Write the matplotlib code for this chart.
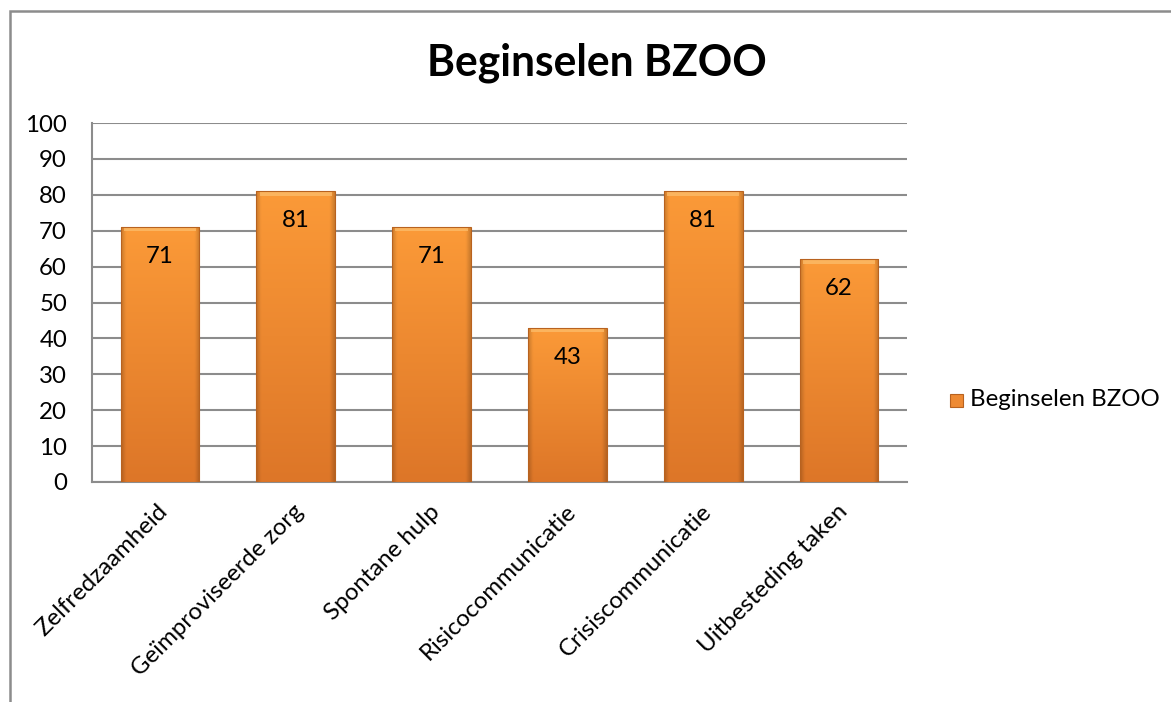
import numpy as np
import matplotlib
matplotlib.use("Agg")
import matplotlib.pyplot as plt
from matplotlib.patches import Rectangle

categories = ["Zelfredzaamheid", "Geïmproviseerde zorg", "Spontane hulp",
              "Risicocommunicatie", "Crisiscommunicatie", "Uitbesteding taken"]
values = [71, 81, 71, 43, 81, 62]
series_name = "Beginselen BZOO"
title = "Beginselen BZOO"
yticks = list(range(0, 101, 10))

plt.rcParams['font.family'] = ['Lato', 'DejaVu Sans']
FS = 17.3

W, H = 1171, 702
fig = plt.figure(figsize=(W / 100, H / 100), dpi=100)
fig.patch.set_facecolor('white')

# outer chart border
fig.add_artist(Rectangle((10 / W, -0.01), 1.2, (H - 11) / H + 0.01, transform=fig.transFigure,
                         fill=False, edgecolor='#8c8c8c', linewidth=1.8))

ax = fig.add_axes([92 / W, 1 - 482 / H, (907 - 92) / W, (482 - 123) / H])
x = np.arange(len(categories))
bars = ax.bar(x, values, width=0.58, color='none', edgecolor='none', zorder=3)

ax.set_xlim(-0.5, len(categories) - 0.5)
ax.set_ylim(0, 100)
ax.set_yticks(yticks)
ax.set_yticklabels([str(t) for t in yticks], fontsize=FS)
ax.tick_params(axis='y', length=0, pad=18)
ax.set_xticks(x)
ax.set_xticklabels([])
ax.tick_params(axis='x', length=0)
for s in ['top', 'right']:
    ax.spines[s].set_visible(False)
ax.spines['left'].set_color('#8c8c8c')
ax.spines['bottom'].set_color('#8c8c8c')
ax.spines['left'].set_linewidth(1.5)
ax.spines['bottom'].set_linewidth(1.5)
ax.yaxis.grid(True, color='#8c8c8c', linewidth=1.5, zorder=0)
ax.set_axisbelow(True)

# gradient image for bars
top_c = np.array([0xfb, 0x9a, 0x38]) / 255
bot_c = np.array([0xdd, 0x76, 0x28]) / 255
ny, nx = 200, 60
vy = np.linspace(0, 1, ny)[:, None]
base = top_c[None, None, :] * (1 - vy[..., None]) + bot_c[None, None, :] * vy[..., None]
base = np.repeat(base, nx, axis=1)
xx = np.linspace(0, 1, nx)[None, :]
edge = np.minimum(xx, 1 - xx)
shade = np.where(edge < 0.06, 0.82 + 0.18 * edge / 0.06, 1.0)
img = base * shade[..., None]

for b in bars:
    x0, y0 = b.get_x(), b.get_y()
    w, h = b.get_width(), b.get_height()
    im = ax.imshow(img, extent=[x0, x0 + w, y0, y0 + h], aspect='auto', zorder=3,
                   interpolation='bilinear')
    im.set_clip_path(b)
    ax.add_patch(Rectangle((x0 + w * 0.04, y0 + h - 1.2), w * 0.92, 1.0,
                           facecolor='#fcc070', edgecolor='none', zorder=4, alpha=0.7))
    ax.add_patch(Rectangle((x0, y0), w, h, fill=False, edgecolor='#b8621f',
                           linewidth=0.8, zorder=5))

for xi, v in zip(x, values):
    ax.text(xi, v - 5.3, str(v), ha='center', va='top', fontsize=FS, zorder=6)

# rotated category labels
for xi, c in zip(x, categories):
    ax.annotate(c, xy=(xi, 0), xycoords=('data', 'axes fraction'),
                xytext=(-2, -13.5), textcoords='offset points',
                rotation=45, rotation_mode='anchor', ha='right', va='top', fontsize=FS)

fig.text(597 / W, 1 - 63 / H, title, ha='center', va='center', fontsize=30.7, fontweight='bold')

# legend
lx, ly = 950, 400
fig.add_artist(Rectangle((lx / W, 1 - (ly + 7) / H), 13 / W, 13 / H, transform=fig.transFigure,
                         facecolor='#ee8a33', edgecolor='#b8621f', linewidth=0.8))
fig.text(970 / W, 1 - ly / H, series_name, ha='left', va='center', fontsize=FS)

fig.savefig('out.png', dpi=100)
